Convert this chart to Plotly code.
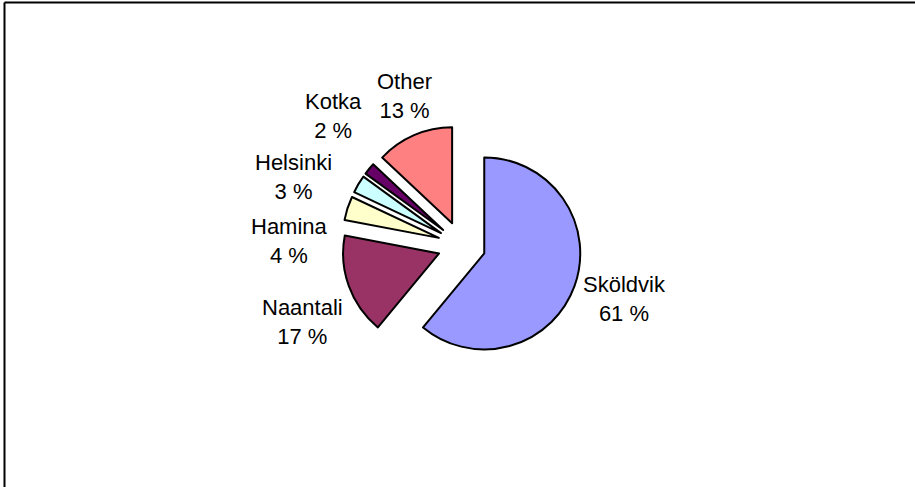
import plotly.graph_objects as go

# Share of volume by port (%)
ports = ["Sköldvik", "Naantali", "Hamina", "Helsinki", "Kotka", "Other"]
shares = [61, 17, 4, 3, 2, 13]
colors = ["#9999FF", "#993366", "#FFFFCC", "#CCFFFF", "#660066", "#FF8080"]

W, H = 915, 487

fig = go.Figure(
    go.Pie(
        labels=ports,
        values=shares,
        sort=False,
        direction="clockwise",
        rotation=0,
        pull=0.25,
        textinfo="none",
        hoverinfo="skip",
        marker=dict(colors=colors, line=dict(color="#000000", width=2)),
        domain=dict(x=[0.3734, 0.6357], y=[0.2499, 0.7427]),
        showlegend=False,
    )
)

# Label placement (pixel centres of each two-line label)
label_pos = {
    "Sköldvik": (624, 299),
    "Naantali": (302, 322),
    "Hamina": (289, 241),
    "Helsinki": (293, 177),
    "Kotka": (333, 116),
    "Other": (404, 96),
}
for name, val in zip(ports, shares):
    px, py = label_pos[name]
    fig.add_annotation(
        x=px / W, y=1 - py / H, xref="paper", yref="paper",
        text=f"{name}<br>{val} %", showarrow=False,
        xanchor="center", yanchor="middle", align="center",
        font=dict(family="Liberation Sans, Arial, sans-serif", size=22, color="#000000"),
    )

# Chart frame (top and left edges)
fig.add_shape(type="line", xref="paper", yref="paper",
              x0=4.5 / W, x1=1.0, y0=1 - 2.5 / H, y1=1 - 2.5 / H,
              line=dict(color="#000000", width=2))
fig.add_shape(type="line", xref="paper", yref="paper",
              x0=4.5 / W, x1=4.5 / W, y0=0.0, y1=1 - 2.5 / H,
              line=dict(color="#000000", width=2))

fig.update_layout(
    width=W, height=H,
    margin=dict(l=0, r=0, t=0, b=0),
    paper_bgcolor="#FFFFFF",
    plot_bgcolor="#FFFFFF",
)

fig.write_html("out.html", config={"displayModeBar": False})
